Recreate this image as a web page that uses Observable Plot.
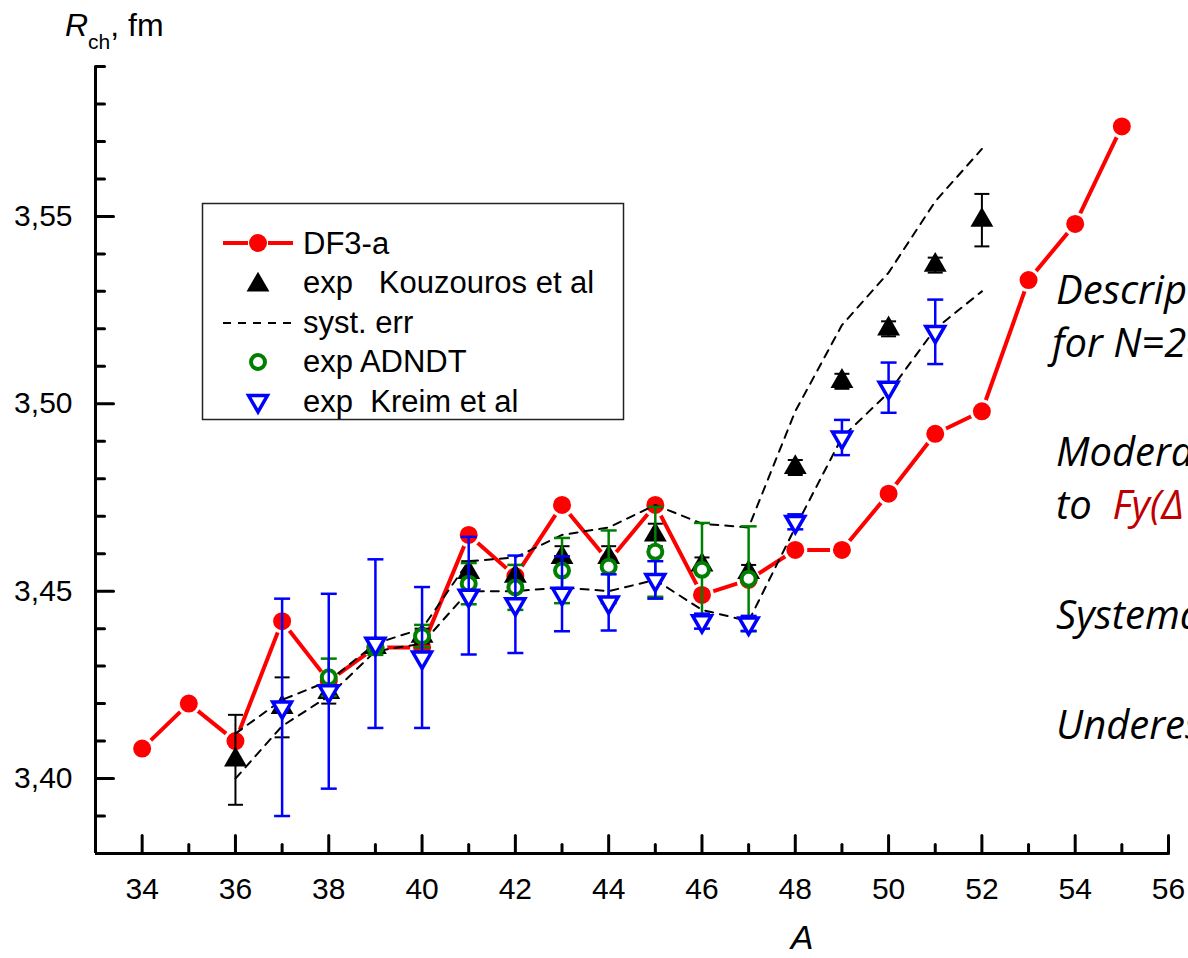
<!DOCTYPE html>
<html>
<head>
<meta charset="utf-8">
<script src="https://cdn.jsdelivr.net/npm/d3@7"></script>
<script src="https://cdn.jsdelivr.net/npm/@observablehq/plot@0.6"></script>
<style>
  html, body { margin: 0; padding: 0; background: #fff; overflow: hidden; }
  #chart { width: 1188px; height: 958px; position: relative; overflow: hidden; }
</style>
</head>
<body>
<div id="chart"></div>
<script>
// DF3-a charge radii, fm
const dfA = [34, 35, 36, 37, 38, 39, 40, 41, 42, 43, 44, 45, 46, 47, 48, 49, 50, 51, 52, 53, 54, 55];
const dfR = [3.408, 3.420, 3.410, 3.442, 3.426, 3.435, 3.435, 3.465, 3.454, 3.473, 3.458, 3.473, 3.449, 3.453, 3.461, 3.461, 3.476, 3.492, 3.498, 3.533, 3.548, 3.574];

// Experiment, Kouzouros et al (statistical errors)
const kouA = [36, 37, 38, 39, 40, 41, 42, 43, 44, 45, 46, 47, 48, 49, 50, 51, 52];
const kouR = [3.405, 3.419, 3.423, 3.435, 3.438, 3.455, 3.454, 3.459, 3.459, 3.465, 3.457, 3.455, 3.483, 3.506, 3.520, 3.537, 3.549];
const kouErr = [0.012, 0.008, 0.003, 0.002, 0.002, 0.003, 0.003, 0.003, 0.003, 0.003, 0.002, 0.002, 0.002, 0.002, 0.002, 0.002, 0.007];

// Systematic error band of the Kouzouros data
const systA = [36, 37, 38, 39, 40, 41, 42, 43, 44, 45, 46, 47, 48, 49, 50, 51, 52];
const systUp = [3.412, 3.421, 3.426, 3.436, 3.440, 3.458, 3.459, 3.465, 3.467, 3.473, 3.468, 3.467, 3.498, 3.521, 3.535, 3.554, 3.568];
const systLo = [3.400, 3.414, 3.422, 3.434, 3.436, 3.450, 3.450, 3.451, 3.450, 3.453, 3.445, 3.442, 3.467, 3.491, 3.503, 3.520, 3.530];

// Experiment, ADNDT compilation
const adA = [38, 39, 40, 41, 42, 43, 44, 45, 46, 47];
const adR = [3.427, 3.435, 3.438, 3.452, 3.451, 3.4555, 3.4565, 3.4605, 3.4557, 3.4533];
const adErr = [0.005, 0.002, 0.003, 0.0055, 0.006, 0.0087, 0.0097, 0.012, 0.0125, 0.014];

// Experiment, Kreim et al
const krA = [37, 38, 39, 40, 41, 42, 43, 44, 45, 46, 47, 48, 49, 50, 51];
const krR = [3.419, 3.4233, 3.436, 3.4323, 3.4488, 3.4465, 3.4493, 3.447, 3.453, 3.442, 3.4414, 3.4685, 3.491, 3.5043, 3.5192];
const krErr = [0.029, 0.026, 0.0225, 0.0188, 0.0157, 0.013, 0.010, 0.0075, 0.005, 0.002, 0.002, 0.002, 0.0047, 0.0067, 0.0086];

// Axes
const xDomain = [33, 56];
const yDomain = [3.38, 3.59];
const xMajor = [34, 36, 38, 40, 42, 44, 46, 48, 50, 52, 54, 56];
const xMinor = [35, 37, 39, 41, 43, 45, 47, 49, 51, 53, 55];
const yMajor = [3.40, 3.45, 3.50, 3.55];
const yMinor = [3.39, 3.41, 3.42, 3.43, 3.44, 3.46, 3.47, 3.48, 3.49, 3.51, 3.52, 3.53, 3.54, 3.56, 3.57, 3.58, 3.59];

const legendLabels = ["DF3-a", "exp   Kouzouros et al", "syst. err", "exp ADNDT", "exp  Kreim et al"];

const RED = "#ff0000", GREEN = "#008000", BLUE = "#0000ff";
const FONT = "'Liberation Sans', Arial, Helvetica, sans-serif";

// tables for the marks
const df = dfA.map((A, i) => ({A, R: dfR[i]}));
const kou = kouA.map((A, i) => ({A, R: kouR[i], e: kouErr[i]}));
const syst = systA.map((A, i) => ({A, up: systUp[i], lo: systLo[i]}));
const ad = adA.map((A, i) => ({A, R: adR[i], e: adErr[i]}));
const kr = krA.map((A, i) => ({A, R: krR[i], e: krErr[i]}));

// straight stroke used for axis ticks (vector shape)
const tickShape = {draw(ctx, l) { ctx.moveTo(0, 0); ctx.lineTo(0, -l); }};
// horizontal cap for error bars; width = 2r
const capSymbol = {draw(ctx, size) { const w = Math.sqrt(size / Math.PI); ctx.moveTo(-w, 0); ctx.lineTo(w, 0); }};
// downward-pointing triangle
const triDown = {draw(ctx, size) {
  const y = Math.sqrt(size / (Math.sqrt(3) * 3));
  const x = y * Math.sqrt(3);
  ctx.moveTo(0, 2 * y); ctx.lineTo(-x, -y); ctx.lineTo(x, -y); ctx.closePath();
}};

function errorBars(data, color, width, capR) {
  return [
    Plot.ruleX(data, {x: "A", y1: d => d.R - d.e, y2: d => d.R + d.e, stroke: color, strokeWidth: width}),
    Plot.dot(data, {x: "A", y: d => d.R + d.e, symbol: capSymbol, r: capR, stroke: color, strokeWidth: width, fill: "none"}),
    Plot.dot(data, {x: "A", y: d => d.R - d.e, symbol: capSymbol, r: capR, stroke: color, strokeWidth: width, fill: "none"})
  ];
}

const svgNode = Plot.plot({
  width: 1188,
  height: 958,
  marginLeft: 95,
  marginRight: 20,
  marginTop: 66,
  marginBottom: 105,
  x: {domain: xDomain, label: null},
  y: {domain: yDomain, label: null},
  style: {fontFamily: FONT, fontSize: "30px", background: "white", color: "black"},
  marks: [
    // axis lines
    Plot.ruleX([xDomain[0]], {stroke: "black", strokeWidth: 3}),
    Plot.ruleY([yDomain[0]], {stroke: "black", strokeWidth: 3}),
    // inward ticks
    Plot.vector(yMajor, {y: d => d, frameAnchor: "left", length: 18, rotate: 90, anchor: "start", shape: tickShape, stroke: "black", strokeWidth: 3}),
    Plot.vector(yMinor, {y: d => d, frameAnchor: "left", length: 9, rotate: 90, anchor: "start", shape: tickShape, stroke: "black", strokeWidth: 3}),
    Plot.vector(xMajor, {x: d => d, frameAnchor: "bottom", length: 18, rotate: 0, anchor: "start", shape: tickShape, stroke: "black", strokeWidth: 3}),
    Plot.vector(xMinor, {x: d => d, frameAnchor: "bottom", length: 9, rotate: 0, anchor: "start", shape: tickShape, stroke: "black", strokeWidth: 3}),
    // tick labels
    Plot.axisY(yMajor, {tickSize: 0, tickPadding: 23, tickFormat: d => d.toFixed(2).replace(".", ","), fontSize: 30, label: null}),
    Plot.axisX(xMajor, {tickSize: 0, tickPadding: 24, tickFormat: d => String(d), fontSize: 30, label: null}),

    // DF3-a
    Plot.line(df, {x: "A", y: "R", stroke: RED, strokeWidth: 4}),
    Plot.dot(df, {x: "A", y: "R", r: 10.5, fill: RED, stroke: "white", strokeWidth: 3}),

    // Kouzouros et al
    ...errorBars(kou, "black", 2, 7.5),
    Plot.dot(kou, {x: "A", y: "R", symbol: "triangle", r: 8.5, fill: "black", stroke: "none"}),

    // systematic error band
    Plot.line(syst, {x: "A", y: "up", stroke: "black", strokeWidth: 2, strokeDasharray: "8,7"}),
    Plot.line(syst, {x: "A", y: "lo", stroke: "black", strokeWidth: 2, strokeDasharray: "8,7"}),

    // ADNDT
    ...errorBars(ad, GREEN, 2.5, 8),
    Plot.dot(ad, {x: "A", y: "R", r: 7, fill: "white", stroke: GREEN, strokeWidth: 4}),

    // Kreim et al
    ...errorBars(kr, BLUE, 2.5, 8),
    Plot.dot(kr, {x: "A", y: "R", symbol: triDown, r: 7, fill: "white", stroke: BLUE, strokeWidth: 3.5})
  ]
});

document.getElementById("chart").appendChild(svgNode);
const svg = d3.select(svgNode);

// axis titles
const yTitle = svg.append("text").attr("x", 65).attr("y", 36).attr("text-anchor", "start")
  .attr("font-family", FONT).attr("font-size", 32).attr("fill", "black");
yTitle.append("tspan").attr("font-style", "italic").text("R");
yTitle.append("tspan").attr("font-size", 21).attr("dy", 13).text("ch");
yTitle.append("tspan").attr("dy", -13).text(", fm");

svg.append("text").attr("x", 802).attr("y", 949).attr("text-anchor", "middle")
  .attr("font-family", FONT).attr("font-size", 34).attr("font-style", "italic").attr("fill", "black").text("A");

// legend
const lg = svg.append("g").attr("font-family", FONT).attr("font-size", 31).attr("text-anchor", "start");
lg.append("rect").attr("x", 202.5).attr("y", 203.5).attr("width", 421).attr("height", 216)
  .attr("fill", "white").attr("stroke", "#222").attr("stroke-width", 1.5);
const rowY = [254, 293, 333, 372, 412];
legendLabels.forEach((t, i) => {
  lg.append("text").attr("x", 303).attr("y", rowY[i]).attr("fill", "black").style("white-space", "pre").text(t);
});
const sx = 258;
lg.append("line").attr("x1", 223).attr("x2", 248).attr("y1", 243).attr("y2", 243).attr("stroke", RED).attr("stroke-width", 4);
lg.append("line").attr("x1", 268).attr("x2", 293).attr("y1", 243).attr("y2", 243).attr("stroke", RED).attr("stroke-width", 4);
lg.append("circle").attr("cx", sx).attr("cy", 243).attr("r", 9).attr("fill", RED);
lg.append("path").attr("transform", `translate(${sx},285)`).attr("d", d3.symbol(d3.symbolTriangle, Math.PI * 8.5 * 8.5)()).attr("fill", "black");
lg.append("line").attr("x1", 223).attr("x2", 293).attr("y1", 323).attr("y2", 323).attr("stroke", "black").attr("stroke-width", 2).attr("stroke-dasharray", "8,7");
lg.append("circle").attr("cx", sx).attr("cy", 362).attr("r", 7).attr("fill", "white").attr("stroke", GREEN).attr("stroke-width", 4);
lg.append("path").attr("transform", `translate(${sx},401)`).attr("d", d3.symbol(triDown, Math.PI * 7 * 7)()).attr("fill", "white").attr("stroke", BLUE).attr("stroke-width", 3.5);

// remarks on the right (the lines run past the page edge)
const NOTE = "'Open Sans', Lato, 'Noto Sans', sans-serif";
const notes = svg.append("g").attr("font-family", NOTE).attr("font-size", 40).attr("font-style", "italic")
  .attr("fill", "black").attr("text-anchor", "start");
notes.append("text").attr("x", 1056).attr("y", 304).text("Description");
notes.append("text").attr("x", 1052).attr("y", 357).text("for N=28");
notes.append("text").attr("x", 1056).attr("y", 466).text("Moderate");
const toLine = notes.append("text").attr("x", 1056).attr("y", 519).style("white-space", "pre");
toLine.append("tspan").text("to  ");
toLine.append("tspan").attr("fill", "#c00000").text("Fy(Δ");
notes.append("text").attr("x", 1056).attr("y", 629).text("Systematic");
notes.append("text").attr("x", 1056).attr("y", 739).text("Underestimation");
</script>
</body>
</html>
